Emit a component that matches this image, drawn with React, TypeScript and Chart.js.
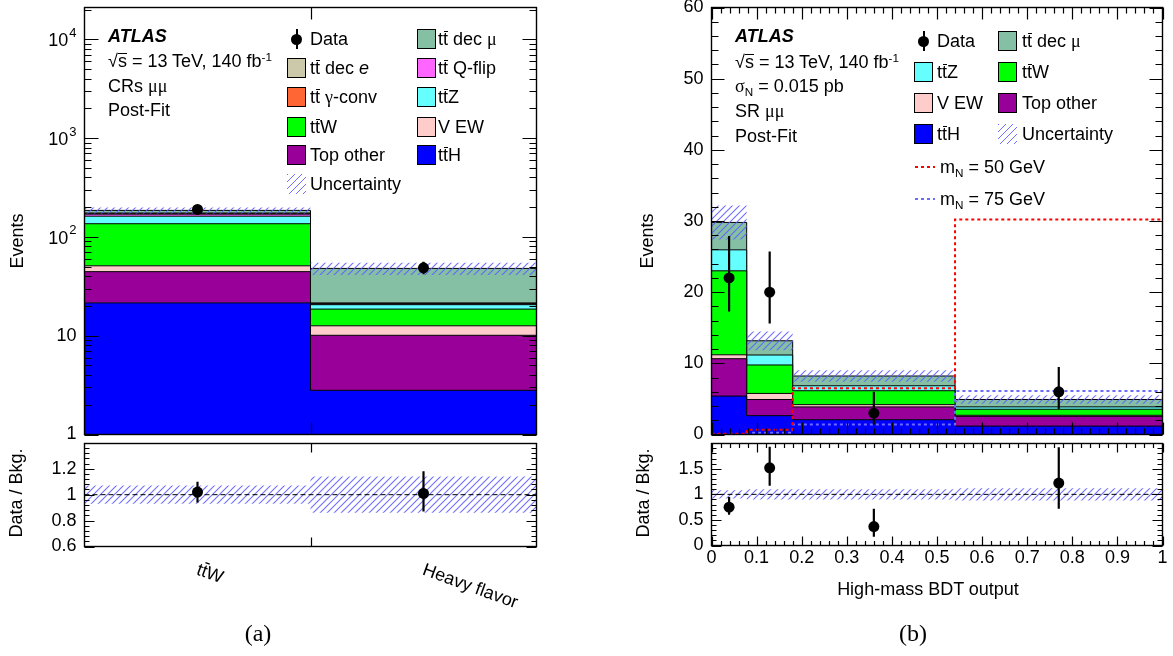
import React, { useEffect, useRef } from "react";
import { Chart, registerables } from "chart.js";

Chart.register(...registerables);

const PAGE_W = 1173;
const PAGE_H = 656;
const SANS = '"Liberation Sans", Arial, Helvetica, sans-serif';
const SERIF = '"Liberation Serif", "Times New Roman", serif';

// ---------------- Panel (a): control regions (log scale) ----------------
const crCategories = ["tt\u0304W", "Heavy flavor"];
const crEdges = [0, 1, 2];
const crCenters = [0.5, 1.5];
const crTtH = [21.5, 2.8];
const crTopOther = [23, 7.3];
const crVEW = [6.5, 2.5];
const crTtW = [85, 6.0];
const crTtZ = [26, 2.0];
const crQFlip = [8, 0.3];
const crGammaConv = [1.5, 0.2];
const crDecE = [3, 0.4];
const crDecMu = [11, 26.5];
const crRelUnc = [0.07, 0.14];
const crData = [190, 48.7];
const crDataLo = [176, 42];
const crDataHi = [204, 56];
const crRatio = [1.02, 1.01];
const crRatioLo = [0.94, 0.87];
const crRatioHi = [1.1, 1.18];
const crRatioUnc = [0.07, 0.14];
const crYTicks = [1, 10, 100, 1000, 10000];
const crYTickLabels = ["1", "10", "10^2", "10^3", "10^4"];
const crRatioTicks = [0.6, 0.8, 1, 1.2];
const crRatioTickLabels = ["0.6", "0.8", "1", "1.2"];

// ---------------- Panel (b): signal region, BDT output ----------------
const srEdges = [0, 0.078, 0.18, 0.54, 1.0];
const srCenters = [0.039, 0.129, 0.36, 0.77];
const srTtH = [5.4, 2.65, 2.08, 1.18];
const srTopOther = [5.25, 2.27, 1.8, 1.37];
const srVEW = [0.55, 0.85, 0.32, 0.15];
const srTtW = [11.8, 4.0, 1.95, 0.85];
const srTtZ = [2.95, 1.4, 0.7, 0.33];
const srDecMu = [3.85, 2.0, 1.37, 1.04];
const srRelUnc = [0.08, 0.1, 0.1, 0.12];
const srData = [22, 20, 3, 6];
const srDataLo = [17.3, 15.6, 1.4, 3.6];
const srDataHi = [27.9, 25.7, 6.0, 9.5];
const srSignal50 = [0.1, 0.65, 6.5, 30.2];
const srSignal75 = [0.05, 0.25, 1.4, 6.1];
const srRatio = [0.75, 1.52, 0.37, 1.22];
const srRatioLo = [0.6, 1.17, 0.17, 0.72];
const srRatioHi = [0.95, 1.93, 0.72, 1.92];
const srRatioUnc = [0.08, 0.1, 0.1, 0.12];
const srYTicks = [0, 10, 20, 30, 40, 50, 60];
const srYTickLabels = ["0", "10", "20", "30", "40", "50", "60"];
const srXTicks = [0, 0.1, 0.2, 0.3, 0.4, 0.5, 0.6, 0.7, 0.8, 0.9, 1];
const srXTickLabels = ["0", "0.1", "0.2", "0.3", "0.4", "0.5", "0.6", "0.7", "0.8", "0.9", "1"];
const srRatioTicks = [0, 0.5, 1, 1.5];
const srRatioTickLabels = ["0", "0.5", "1", "1.5"];

const COL = {
  ttH: "#0000ff",
  topOther: "#990099",
  vEW: "#ffcccc",
  ttW: "#00ff00",
  ttZ: "#66ffff",
  qFlip: "#ff66ff",
  gConv: "#ff6633",
  decE: "#ccc8aa",
  decMu: "#86c0a4",
  sig50: "#ff0000",
  sig75: "#6b6bff",
  hatch: "rgba(95,95,255,0.9)",
};

const crComponents = [
  { name: "tt\u0304H", values: crTtH, color: COL.ttH },
  { name: "Top other", values: crTopOther, color: COL.topOther },
  { name: "V EW", values: crVEW, color: COL.vEW },
  { name: "tt\u0304W", values: crTtW, color: COL.ttW },
  { name: "tt\u0304Z", values: crTtZ, color: COL.ttZ },
  { name: "tt\u0304 Q-flip", values: crQFlip, color: COL.qFlip },
  { name: "tt\u0304 \u03b3-conv", values: crGammaConv, color: COL.gConv },
  { name: "tt\u0304 dec ~e~", values: crDecE, color: COL.decE },
  { name: "tt\u0304 dec \u03bc", values: crDecMu, color: COL.decMu },
];

const srComponents = [
  { name: "tt\u0304H", values: srTtH, color: COL.ttH },
  { name: "Top other", values: srTopOther, color: COL.topOther },
  { name: "V EW", values: srVEW, color: COL.vEW },
  { name: "tt\u0304W", values: srTtW, color: COL.ttW },
  { name: "tt\u0304Z", values: srTtZ, color: COL.ttZ },
  { name: "tt\u0304 dec \u03bc", values: srDecMu, color: COL.decMu },
];

const srSignals = [
  { name: "m_N = 50 GeV", values: srSignal50, color: COL.sig50 },
  { name: "m_N = 75 GeV", values: srSignal75, color: COL.sig75 },
];

const AREA = {
  crMain: { l: 84.5, t: 7.5, r: 536.5, b: 434.5 },
  crRatio: { l: 84.5, t: 443.5, r: 536.5, b: 546.5 },
  srMain: { l: 711.5, t: 7.5, r: 1162.5, b: 434.5 },
  srRatio: { l: 711.5, t: 443.5, r: 1162.5, b: 545.5 },
};

// ---------------- helpers ----------------
function makeHatch(): any {
  const s = 7;
  const c = document.createElement("canvas");
  c.width = s;
  c.height = s;
  const g = c.getContext("2d")!;
  g.strokeStyle = COL.hatch;
  g.lineWidth = 1.1;
  g.beginPath();
  g.moveTo(0, s);
  g.lineTo(s, 0);
  g.moveTo(-1, 1);
  g.lineTo(1, -1);
  g.moveTo(s - 1, s + 1);
  g.lineTo(s + 1, s - 1);
  g.stroke();
  return g.createPattern(c, "repeat");
}

function stepData(edges: number[], vals: number[]) {
  return edges.map((x, i) => ({ x, y: vals[Math.min(i, vals.length - 1)] }));
}

function stackDatasets(edges: number[], comps: any[], base: string) {
  const run = comps[0].values.map(() => 0);
  return comps.map((c, k) => {
    c.values.forEach((v: number, i: number) => (run[i] += v));
    return {
      type: "line",
      label: c.name,
      data: stepData(edges, run.slice()),
      stepped: true,
      borderColor: "#000",
      borderWidth: 1,
      backgroundColor: c.color,
      fill: k === 0 ? base : "-1",
      pointRadius: 0,
      order: 50,
    };
  });
}

function totals(comps: any[]) {
  const run = comps[0].values.map(() => 0);
  comps.forEach((c) => c.values.forEach((v: number, i: number) => (run[i] += v)));
  return run;
}

function bandDatasets(edges: number[], lo: number[], hi: number[], hatch: any) {
  return [
    {
      type: "line",
      label: "unc-lo",
      data: stepData(edges, lo),
      stepped: true,
      borderColor: "rgba(0,0,0,0)",
      borderWidth: 1,
      fill: false,
      pointRadius: 0,
      order: 40,
    },
    {
      type: "line",
      label: "Uncertainty",
      data: stepData(edges, hi),
      stepped: true,
      borderColor: "rgba(0,0,0,0)",
      borderWidth: 1,
      backgroundColor: hatch,
      fill: "-1",
      pointRadius: 0,
      order: 40,
    },
  ];
}

function pointDatasets(xs: number[], ys: number[], lo: number[], hi: number[]) {
  const out: any[] = [
    {
      type: "line",
      label: "Data",
      data: xs.map((x, i) => ({ x, y: ys[i] })),
      showLine: false,
      pointRadius: 5.5,
      pointBackgroundColor: "#000",
      pointBorderColor: "#000",
      pointBorderWidth: 0,
      order: 0,
    },
  ];
  xs.forEach((x, i) =>
    out.push({
      type: "line",
      label: "err",
      data: [
        { x, y: lo[i] },
        { x, y: hi[i] },
      ],
      borderColor: "#000",
      borderWidth: 2.2,
      pointRadius: 0,
      fill: false,
      order: 1,
    })
  );
  return out;
}

function rangeSteps(a: number, b: number, step: number, skip: number[] = []) {
  const out: number[] = [];
  const n = Math.round((b - a) / step);
  for (let i = 0; i <= n; i++) {
    const v = Math.round((a + i * step) * 10000) / 10000;
    if (!skip.some((s) => Math.abs(s - v) < 1e-6)) out.push(v);
  }
  return out;
}

function logMinors(min: number, max: number) {
  const out: number[] = [];
  for (let d = 1; d <= max; d *= 10) {
    for (let k = 2; k <= 9; k++) {
      const v = k * d;
      if (v >= min && v <= max) out.push(v);
    }
  }
  return out;
}

function drawTickLabel(ctx: any, s: string, x: number, y: number, align: string) {
  const m = s.match(/^(.*)\^(.*)$/);
  const base = m ? m[1] : s;
  const sup = m ? m[2] : "";
  ctx.font = `18px ${SANS}`;
  const wb = ctx.measureText(base).width;
  ctx.font = `13px ${SANS}`;
  const ws = sup ? ctx.measureText(sup).width + 1 : 0;
  const total = wb + ws;
  const x0 = align === "right" ? x - total : align === "center" ? x - total / 2 : x;
  ctx.textAlign = "left";
  ctx.textBaseline = "middle";
  ctx.font = `18px ${SANS}`;
  ctx.fillText(base, x0, sup ? y + 2 : y);
  if (sup) {
    ctx.font = `13px ${SANS}`;
    ctx.fillText(sup, x0 + wb + 1, y - 6);
  }
}

function drawRichCanvas(ctx: any, s: string, x: number, y: number, fs: number) {
  const chars = Array.from(s);
  let cx = x;
  for (let i = 0; i < chars.length; i++) {
    const ch = chars[i];
    if (ch === "\u0304") continue;
    const w = ctx.measureText(ch).width;
    ctx.fillText(ch, cx, y);
    if (chars[i + 1] === "\u0304") ctx.fillRect(cx + 0.5, y - fs * 0.83, w - 0.5, 1.4);
    cx += w;
  }
}

function makeAxesPlugin(cfg: any) {
  return {
    id: "rootFrame",
    afterDraw(chart: any) {
      const { ctx, chartArea: a } = chart;
      const xs = chart.scales.x;
      const ys = chart.scales.y;
      ctx.save();
      ctx.strokeStyle = "#000";
      ctx.lineWidth = 1.2;
      ctx.beginPath();
      const hTick = (v: number, len: number) => {
        const p = Math.round(ys.getPixelForValue(v)) + 0.5;
        ctx.moveTo(a.left, p);
        ctx.lineTo(a.left + len, p);
        ctx.moveTo(a.right, p);
        ctx.lineTo(a.right - len, p);
      };
      const vTick = (v: number, len: number) => {
        const p = Math.round(xs.getPixelForValue(v)) + 0.5;
        ctx.moveTo(p, a.bottom);
        ctx.lineTo(p, a.bottom - len);
        ctx.moveTo(p, a.top);
        ctx.lineTo(p, a.top + len);
      };
      cfg.yMajor.forEach((v: number) => hTick(v, cfg.yMajLen));
      cfg.yMinor.forEach((v: number) => hTick(v, cfg.yMinLen));
      cfg.xMajor.forEach((v: number) => vTick(v, cfg.xMajLen));
      cfg.xMinor.forEach((v: number) => vTick(v, cfg.xMinLen));
      ctx.stroke();
      ctx.lineWidth = 1.4;
      ctx.strokeRect(a.left, a.top, a.right - a.left, a.bottom - a.top);
      ctx.fillStyle = "#000";
      cfg.yLabelVals.forEach((v: number, i: number) =>
        drawTickLabel(ctx, cfg.yLabelTexts[i], a.left - 8, ys.getPixelForValue(v), "right")
      );
      if (cfg.xLabelVals) {
        cfg.xLabelVals.forEach((v: number, i: number) =>
          drawTickLabel(ctx, cfg.xLabelTexts[i], xs.getPixelForValue(v), a.bottom + 13, "center")
        );
      }
      if (cfg.catVals) {
        ctx.font = `18px ${SANS}`;
        ctx.textAlign = "left";
        ctx.textBaseline = "alphabetic";
        cfg.catVals.forEach((v: number, i: number) => {
          ctx.save();
          ctx.translate(xs.getPixelForValue(v), a.bottom + 22);
          ctx.rotate((20 * Math.PI) / 180);
          drawRichCanvas(ctx, cfg.catTexts[i], 0, 6, 18);
          ctx.restore();
        });
      }
      ctx.restore();
    },
  };
}

function buildConfig(area: any, xRange: number[], yOpts: any, datasets: any[], axisCfg: any) {
  return {
    type: "line",
    data: { datasets },
    options: {
      animation: false,
      responsive: false,
      events: [],
      layout: {
        autoPadding: false,
        padding: { left: area.l, top: area.t, right: PAGE_W - area.r, bottom: PAGE_H - area.b },
      },
      plugins: { legend: { display: false }, tooltip: { enabled: false } },
      scales: {
        x: { type: "linear", min: xRange[0], max: xRange[1], display: false },
        y: { ...yOpts, display: false },
      },
    },
    plugins: [makeAxesPlugin(axisCfg)],
  };
}

function hLine(x0: number, x1: number, y: number) {
  return {
    type: "line",
    label: "ref",
    data: [
      { x: x0, y },
      { x: x1, y },
    ],
    borderColor: "#000",
    borderWidth: 1,
    borderDash: [5, 3],
    pointRadius: 0,
    fill: false,
    order: 20,
  };
}

// ---------------- chart builders ----------------
function makeCrMain() {
  const hatch = makeHatch();
  const ds: any[] = stackDatasets(crEdges, crComponents, "start");
  const tot = totals(crComponents);
  ds.push(
    ...bandDatasets(
      crEdges,
      tot.map((t: number, i: number) => t * (1 - crRelUnc[i])),
      tot.map((t: number, i: number) => t * (1 + crRelUnc[i])),
      hatch
    )
  );
  ds.push(...pointDatasets(crCenters, crData, crDataLo, crDataHi));
  return buildConfig(AREA.crMain, [crEdges[0], crEdges[crEdges.length - 1]], { type: "logarithmic", min: 1, max: 2.1e4 }, ds, {
    yMajor: crYTicks,
    yMinor: logMinors(1, 2.1e4),
    yMajLen: 14,
    yMinLen: 7,
    xMajor: crEdges.slice(1, -1),
    xMinor: [],
    xMajLen: 12,
    xMinLen: 0,
    yLabelVals: crYTicks,
    yLabelTexts: crYTickLabels,
  });
}

function makeCrRatio() {
  const hatch = makeHatch();
  const ds: any[] = bandDatasets(
    crEdges,
    crRatioUnc.map((u) => 1 - u),
    crRatioUnc.map((u) => 1 + u),
    hatch
  );
  ds.push(hLine(crEdges[0], crEdges[crEdges.length - 1], 1));
  ds.push(...pointDatasets(crCenters, crRatio, crRatioLo, crRatioHi));
  return buildConfig(AREA.crRatio, [crEdges[0], crEdges[crEdges.length - 1]], { type: "linear", min: 0.6, max: 1.395 }, ds, {
    yMajor: crRatioTicks,
    yMinor: rangeSteps(0.6, 1.36, 0.04, crRatioTicks),
    yMajLen: 10,
    yMinLen: 5,
    xMajor: crEdges.slice(1, -1),
    xMinor: [],
    xMajLen: 9,
    xMinLen: 0,
    yLabelVals: crRatioTicks,
    yLabelTexts: crRatioTickLabels,
    catVals: crCenters,
    catTexts: crCategories,
  });
}

function makeSrMain() {
  const hatch = makeHatch();
  const ds: any[] = stackDatasets(srEdges, srComponents, "origin");
  const tot = totals(srComponents);
  ds.push(
    ...bandDatasets(
      srEdges,
      tot.map((t: number, i: number) => t * (1 - srRelUnc[i])),
      tot.map((t: number, i: number) => t * (1 + srRelUnc[i])),
      hatch
    )
  );
  srSignals.forEach((s) =>
    ds.push({
      type: "line",
      label: s.name,
      data: stepData(srEdges, s.values),
      stepped: true,
      borderColor: s.color,
      borderWidth: 2,
      borderDash: [3, 3],
      pointRadius: 0,
      fill: false,
      order: 30,
    })
  );
  ds.push(...pointDatasets(srCenters, srData, srDataLo, srDataHi));
  return buildConfig(AREA.srMain, [0, 1], { type: "linear", min: 0, max: 60 }, ds, {
    yMajor: srYTicks,
    yMinor: rangeSteps(0, 60, 2, srYTicks),
    yMajLen: 13,
    yMinLen: 7,
    xMajor: srXTicks,
    xMinor: rangeSteps(0, 1, 0.02, srXTicks),
    xMajLen: 12,
    xMinLen: 6,
    yLabelVals: srYTicks,
    yLabelTexts: srYTickLabels,
  });
}

function makeSrRatio() {
  const hatch = makeHatch();
  const ds: any[] = bandDatasets(
    srEdges,
    srRatioUnc.map((u) => 1 - u),
    srRatioUnc.map((u) => 1 + u),
    hatch
  );
  ds.push(hLine(0, 1, 1));
  ds.push(...pointDatasets(srCenters, srRatio, srRatioLo, srRatioHi));
  return buildConfig(AREA.srRatio, [0, 1], { type: "linear", min: 0, max: 1.995 }, ds, {
    yMajor: srRatioTicks,
    yMinor: rangeSteps(0, 1.9, 0.1, srRatioTicks),
    yMajLen: 10,
    yMinLen: 5,
    xMajor: srXTicks,
    xMinor: rangeSteps(0, 1, 0.02, srXTicks),
    xMajLen: 9,
    xMinLen: 4.5,
    yLabelVals: srRatioTicks,
    yLabelTexts: srRatioTickLabels,
    xLabelVals: srXTicks,
    xLabelTexts: srXTickLabels,
  });
}

function ChartCanvas({ make }: { make: () => any }) {
  const ref = useRef<HTMLCanvasElement>(null);
  useEffect(() => {
    const chart = new Chart(ref.current as any, make());
    return () => chart.destroy();
  }, []);
  return (
    <canvas
      ref={ref}
      width={PAGE_W}
      height={PAGE_H}
      style={{ position: "absolute", left: 0, top: 0, width: PAGE_W, height: PAGE_H, pointerEvents: "none" }}
    />
  );
}

// ---------------- HTML text overlay ----------------
function Rich({ s }: { s: string }) {
  const chars = Array.from(s);
  const out: React.ReactNode[] = [];
  let italic = false;
  for (let i = 0; i < chars.length; i++) {
    const c = chars[i];
    if (c === "~") {
      italic = !italic;
      continue;
    }
    if (c === "_" && i + 1 < chars.length) {
      out.push(
        <span key={i} style={{ fontSize: "0.65em", position: "relative", top: "0.35em" }}>
          {chars[i + 1]}
        </span>
      );
      i++;
      continue;
    }
    const bar = chars[i + 1] === "\u0304";
    if (bar) i++;
    const style: any = {};
    if (/[\u0391-\u03c9]/.test(c)) style.fontFamily = SERIF;
    if (italic) style.fontStyle = "italic";
    if (bar) {
      style.position = "relative";
      out.push(
        <span key={i} style={style}>
          {c}
          <span
            style={{
              position: "absolute",
              left: "0.04em",
              right: "0.0em",
              top: "0.1em",
              borderTop: "1.4px solid #000",
            }}
          />
        </span>
      );
    } else {
      out.push(
        <span key={i} style={style}>
          {c}
        </span>
      );
    }
  }
  return <>{out}</>;
}

function Txt({
  x,
  y,
  children,
  size = 18,
  align = "left",
  rot = 0,
  style = {},
}: {
  x: number;
  y: number;
  children: React.ReactNode;
  size?: number;
  align?: string;
  rot?: number;
  style?: any;
}) {
  const tx = align === "left" ? "0" : align === "center" ? "-50%" : "-100%";
  return (
    <div
      style={{
        position: "absolute",
        left: x,
        top: y,
        transform: `translate(${tx}, -50%)${rot ? ` rotate(${rot}deg)` : ""}`,
        fontFamily: SANS,
        fontSize: size,
        lineHeight: 1,
        whiteSpace: "nowrap",
        color: "#000",
        ...style,
      }}
    >
      {children}
    </div>
  );
}

function SqrtLine({ x, y }: { x: number; y: number }) {
  return (
    <Txt x={x} y={y}>
      {"\u221a"}
      <span style={{ position: "relative" }}>
        s
        <span style={{ position: "absolute", left: 0, right: 0, top: "0.12em", borderTop: "1.2px solid #000" }} />
      </span>
      {" = 13 TeV, 140 fb"}
      <span style={{ fontSize: "0.65em", position: "relative", top: "-0.55em" }}>-1</span>
    </Txt>
  );
}

function Swatch({ x, y, color }: { x: number; y: number; color: string }) {
  return (
    <div
      style={{
        position: "absolute",
        left: x,
        top: y - 10,
        width: 19,
        height: 20,
        background: color,
        border: "1px solid #000",
        boxSizing: "border-box",
      }}
    />
  );
}

function HatchSwatch({ x, y }: { x: number; y: number }) {
  return (
    <div
      style={{
        position: "absolute",
        left: x,
        top: y - 10,
        width: 19,
        height: 20,
        background: `repeating-linear-gradient(135deg, ${COL.hatch} 0px, ${COL.hatch} 1px, rgba(255,255,255,0) 1px, rgba(255,255,255,0) 5px)`,
      }}
    />
  );
}

function DataMark({ x, y }: { x: number; y: number }) {
  return (
    <>
      <div style={{ position: "absolute", left: x - 1, top: y - 10, width: 2, height: 20, background: "#000" }} />
      <div
        style={{ position: "absolute", left: x - 5.5, top: y - 5.5, width: 11, height: 11, borderRadius: "50%", background: "#000" }}
      />
    </>
  );
}

function DashMark({ x0, x1, y, color }: { x0: number; x1: number; y: number; color: string }) {
  return (
    <div
      style={{
        position: "absolute",
        left: x0,
        top: y - 1,
        width: x1 - x0,
        height: 2,
        background: `repeating-linear-gradient(90deg, ${color} 0px, ${color} 3px, rgba(255,255,255,0) 3px, rgba(255,255,255,0) 6px)`,
      }}
    />
  );
}

function Entry({ bx, tx, y, comp }: { bx: number; tx: number; y: number; comp: any }) {
  return (
    <>
      <Swatch x={bx} y={y} color={comp.color} />
      <Txt x={tx} y={y}>
        <Rich s={comp.name} />
      </Txt>
    </>
  );
}

function Overlay() {
  const c = crComponents;
  const s = srComponents;
  return (
    <>
      {/* ---- panel (a) ---- */}
      <Txt x={108} y={36} style={{ fontWeight: "bold", fontStyle: "italic" }}>
        ATLAS
      </Txt>
      <SqrtLine x={108} y={61} />
      <Txt x={108} y={86}>
        <Rich s={"CRs \u03bc\u03bc"} />
      </Txt>
      <Txt x={108} y={110}>
        Post-Fit
      </Txt>

      <DataMark x={296.5} y={39} />
      <Txt x={310} y={39}>
        Data
      </Txt>
      <Entry bx={287} tx={310} y={68} comp={c[7]} />
      <Entry bx={287} tx={310} y={97} comp={c[6]} />
      <Entry bx={287} tx={310} y={127} comp={c[3]} />
      <Entry bx={287} tx={310} y={155} comp={c[1]} />
      <HatchSwatch x={287} y={184} />
      <Txt x={310} y={184}>
        Uncertainty
      </Txt>
      <Entry bx={417} tx={438} y={39} comp={c[8]} />
      <Entry bx={417} tx={438} y={68} comp={c[5]} />
      <Entry bx={417} tx={438} y={97} comp={c[4]} />
      <Entry bx={417} tx={438} y={127} comp={c[2]} />
      <Entry bx={417} tx={438} y={155} comp={c[0]} />

      <Txt x={17} y={241} align="center" rot={-90}>
        Events
      </Txt>
      <Txt x={16} y={493} align="center" rot={-90}>
        Data / Bkg.
      </Txt>
      <Txt x={258} y={633} align="center" size={24} style={{ fontFamily: SERIF }}>
        (a)
      </Txt>

      {/* ---- panel (b) ---- */}
      <Txt x={735} y={36} style={{ fontWeight: "bold", fontStyle: "italic" }}>
        ATLAS
      </Txt>
      <SqrtLine x={735} y={62} />
      <Txt x={735} y={86}>
        <Rich s={"\u03c3_N = 0.015 pb"} />
      </Txt>
      <Txt x={735} y={111}>
        <Rich s={"SR \u03bc\u03bc"} />
      </Txt>
      <Txt x={735} y={136}>
        Post-Fit
      </Txt>

      <DataMark x={923.5} y={41} />
      <Txt x={937} y={41}>
        Data
      </Txt>
      <Entry bx={914} tx={937} y={72} comp={s[4]} />
      <Entry bx={914} tx={937} y={103} comp={s[2]} />
      <Entry bx={914} tx={937} y={134} comp={s[0]} />
      <Entry bx={998} tx={1022} y={41} comp={s[5]} />
      <Entry bx={998} tx={1022} y={72} comp={s[3]} />
      <Entry bx={998} tx={1022} y={103} comp={s[1]} />
      <HatchSwatch x={998} y={134} />
      <Txt x={1022} y={134}>
        Uncertainty
      </Txt>
      <DashMark x0={915} x1={935} y={167} color={srSignals[0].color} />
      <Txt x={940} y={167}>
        <Rich s={srSignals[0].name} />
      </Txt>
      <DashMark x0={915} x1={935} y={199} color={srSignals[1].color} />
      <Txt x={940} y={199}>
        <Rich s={srSignals[1].name} />
      </Txt>

      <Txt x={647} y={241} align="center" rot={-90}>
        Events
      </Txt>
      <Txt x={643} y={493} align="center" rot={-90}>
        Data / Bkg.
      </Txt>
      <Txt x={928} y={589} align="center">
        High-mass BDT output
      </Txt>
      <Txt x={913} y={633} align="center" size={24} style={{ fontFamily: SERIF }}>
        (b)
      </Txt>
    </>
  );
}

export default function App() {
  return (
    <div
      style={{
        position: "absolute",
        left: 0,
        top: 0,
        width: PAGE_W,
        height: PAGE_H,
        background: "#fff",
        overflow: "hidden",
      }}
    >
      <ChartCanvas make={makeCrMain} />
      <ChartCanvas make={makeCrRatio} />
      <ChartCanvas make={makeSrMain} />
      <ChartCanvas make={makeSrRatio} />
      <Overlay />
    </div>
  );
}
